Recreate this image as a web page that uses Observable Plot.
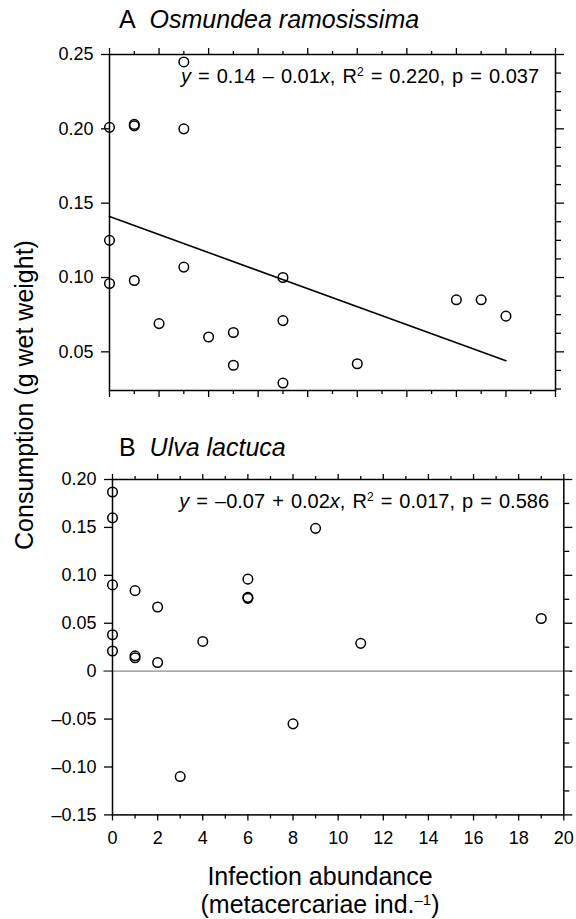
<!DOCTYPE html>
<html><head><meta charset="utf-8">
<script src="https://cdn.jsdelivr.net/npm/d3@7"></script>
<script src="https://cdn.jsdelivr.net/npm/@observablehq/plot@0.6"></script>
<style>
body{margin:0;background:#fff;}
#c{position:relative;width:576px;height:919px;font-family:"Liberation Sans",Arial,Helvetica,sans-serif;color:#000;overflow:hidden;background:#fff}
#c svg{position:absolute;left:0}
.t{position:absolute;line-height:0;white-space:nowrap}
.sup{font-size:60%;position:relative;top:-0.55em}
</style></head><body><div id="c"></div>
<script>
// ---- Panel A: Osmundea ramosissima ----
const xA = [0,0,0,1,1,1,2,3,3,3,4,5,5,7,7,7,10,14,15,16];
const yA = [0.201,0.125,0.096,0.203,0.202,0.098,0.069,0.245,0.200,0.107,0.060,0.063,0.041,0.100,0.071,0.029,0.042,0.085,0.085,0.074];
const fitXA = [0,16];
const fitYA = [0.141,0.044];
const yTicksA = [0.05,0.10,0.15,0.20,0.25];
const yTickLabelsA = ["0.05","0.10","0.15","0.20","0.25"];
const yMinorA = [0.025,0.0375,0.0625,0.075,0.0875,0.1125,0.125,0.1375,0.1625,0.175,0.1875,0.2125,0.225,0.2375];
const xMajorA = [0,2,4,6,8,10,12,14,16,18];
const xMinorA = [1,3,5,7,9,11,13,15,17];

// ---- Panel B: Ulva lactuca ----
const xB = [0,0,0,0,0,1,1,1,2,2,3,4,6,6,6,8,9,11,19];
const yB = [0.187,0.160,0.090,0.038,0.021,0.084,0.016,0.014,0.067,0.009,-0.110,0.031,0.096,0.077,0.076,-0.055,0.149,0.029,0.055];
const yTicksB = [-0.15,-0.10,-0.05,0,0.05,0.10,0.15,0.20];
const yTickLabelsB = ["\u20130.15","\u20130.10","\u20130.05","0","0.05","0.10","0.15","0.20"];
const yMinorB = [-0.125,-0.075,-0.025,0.025,0.075,0.125,0.175];
const xMajorB = [0,2,4,6,8,10,12,14,16,18,20];
const xTickLabelsB = ["0","2","4","6","8","10","12","14","16","18","20"];
const xMinorB = [1,3,5,7,9,11,13,15,17,19];

const FONT = "Liberation Sans, Arial, Helvetica, sans-serif";
const blank = () => "";
const tw = 1.3;
const fs = 18;

const ptsA = xA.map((x,i)=>({x, y:yA[i]}));
const fitA = fitXA.map((x,i)=>({x, y:fitYA[i]}));
const ptsB = xB.map((x,i)=>({x, y:yB[i]}));
const labA = new Map(yTicksA.map((v,i)=>[v,yTickLabelsA[i]]));
const labB = new Map(yTicksB.map((v,i)=>[v,yTickLabelsB[i]]));
const labXB = new Map(xMajorB.map((v,i)=>[v,xTickLabelsB[i]]));

const chartA = Plot.plot({
  width: 576, height: 410,
  marginTop: 54, marginBottom: 20, marginLeft: 109, marginRight: 21,
  x: {domain: [0,18]},
  y: {domain: [0.024,0.25]},
  style: {fontFamily: FONT, fontSize: "18px", color: "black", background: "transparent", overflow: "visible"},
  marks: [
    Plot.axisY(yTicksA, {anchor:"left", tickSize:8, tickPadding:8, fontSize:fs, strokeWidth:tw, tickFormat: d=>labA.get(d), label:null}),
    Plot.axisY(yTicksA, {anchor:"right", tickSize:8, strokeWidth:tw, tickFormat: blank, label:null}),
    Plot.axisY(yMinorA, {anchor:"right", tickSize:5, strokeWidth:tw, tickFormat: blank, label:null}),
    Plot.axisX(xMajorA, {anchor:"top", tickSize:7, strokeWidth:tw, tickFormat: blank, label:null}),
    Plot.axisX(xMinorA, {anchor:"top", tickSize:4, strokeWidth:tw, tickFormat: blank, label:null}),
    Plot.axisX(xMajorA, {anchor:"bottom", tickSize:7, strokeWidth:tw, tickFormat: blank, label:null}),
    Plot.axisX(xMinorA, {anchor:"bottom", tickSize:4, strokeWidth:tw, tickFormat: blank, label:null}),
    Plot.frame({stroke:"black", strokeWidth:1.5}),
    Plot.line(fitA, {x:"x", y:"y", stroke:"black", strokeWidth:1.6}),
    Plot.dot(ptsA, {x:"x", y:"y", r:4.8, stroke:"black", strokeWidth:1.5, fill:"none"})
  ]
});

const chartB = Plot.plot({
  width: 576, height: 440,
  marginTop: 59, marginBottom: 45.6, marginLeft: 112, marginRight: 12.7,
  x: {domain: [0,20]},
  y: {domain: [-0.15,0.20]},
  style: {fontFamily: FONT, fontSize: "18px", color: "black", background: "transparent", overflow: "visible"},
  marks: [
    Plot.axisY(yTicksB, {anchor:"left", tickSize:8, tickPadding:8, fontSize:fs, strokeWidth:tw, tickFormat: d=>labB.get(d), label:null}),
    Plot.axisY(yTicksB, {anchor:"right", tickSize:8, strokeWidth:tw, tickFormat: blank, label:null}),
    Plot.axisY(yMinorB, {anchor:"right", tickSize:5, strokeWidth:tw, tickFormat: blank, label:null}),
    Plot.axisX(xMajorB, {anchor:"top", tickSize:6, strokeWidth:tw, tickFormat: blank, label:null}),
    Plot.axisX(xMinorB, {anchor:"top", tickSize:4, strokeWidth:tw, tickFormat: blank, label:null}),
    Plot.axisX(xMajorB, {anchor:"bottom", tickSize:6, tickPadding:10, fontSize:fs, strokeWidth:tw, tickFormat: d=>labXB.get(d), label:null}),
    Plot.axisX(xMinorB, {anchor:"bottom", tickSize:4, strokeWidth:tw, tickFormat: blank, label:null}),
    Plot.ruleY([0], {stroke:"#8c8c8c", strokeWidth:1.4, insetLeft:-9, insetRight:-6}),
    Plot.frame({stroke:"black", strokeWidth:1.5}),
    Plot.dot(ptsB, {x:"x", y:"y", r:4.8, stroke:"black", strokeWidth:1.5, fill:"none"})
  ]
});

const c = document.getElementById("c");
chartA.style.top = "0px";
chartB.style.top = "420px";
c.appendChild(chartA);
c.appendChild(chartB);

function addText(html, fs, baseline, opts){
  const d = document.createElement("div");
  d.className = "t";
  d.innerHTML = html;
  d.style.fontSize = fs + "px";
  d.style.top = (baseline - 0.3465*fs) + "px";
  if (opts.left !== undefined) d.style.left = opts.left + "px";
  if (opts.right !== undefined) { d.style.right = (576 - opts.right) + "px"; d.style.textAlign = "right"; }
  if (opts.center !== undefined) { d.style.left = opts.center + "px"; d.style.transform = "translateX(-50%)"; }
  if (opts.ls) d.style.letterSpacing = opts.ls + "px";
  if (opts.ws) d.style.wordSpacing = opts.ws + "px";
  c.appendChild(d);
  return d;
}

addText("A&nbsp;&nbsp;<i>Osmundea ramosissima</i>", 25, 28, {left:119});
addText("B&nbsp;&nbsp;<i>Ulva lactuca</i>", 25, 456, {left:119});
addText("<i>y</i> = 0.14 – 0.01<i>x</i>, R<span class='sup'>2</span> = 0.220, p = 0.037", 20, 83, {right:539, ws:1.5});
addText("<i>y</i> = –0.07 + 0.02<i>x</i>, R<span class='sup'>2</span> = 0.017, p = 0.586", 20, 508, {right:549, ws:1.5});
addText("Infection abundance", 25, 885, {center:320});
addText("(metacercariae ind.<span class='sup'>–1</span>)", 25, 913, {center:320});

const yl = document.createElement("div");
yl.textContent = "Consumption (g wet weight)";
yl.style.cssText = "position:absolute;left:24px;top:395px;font-size:25px;line-height:1;white-space:nowrap;transform:translate(-50%,-50%) rotate(-90deg);";
c.appendChild(yl);
</script></body></html>
